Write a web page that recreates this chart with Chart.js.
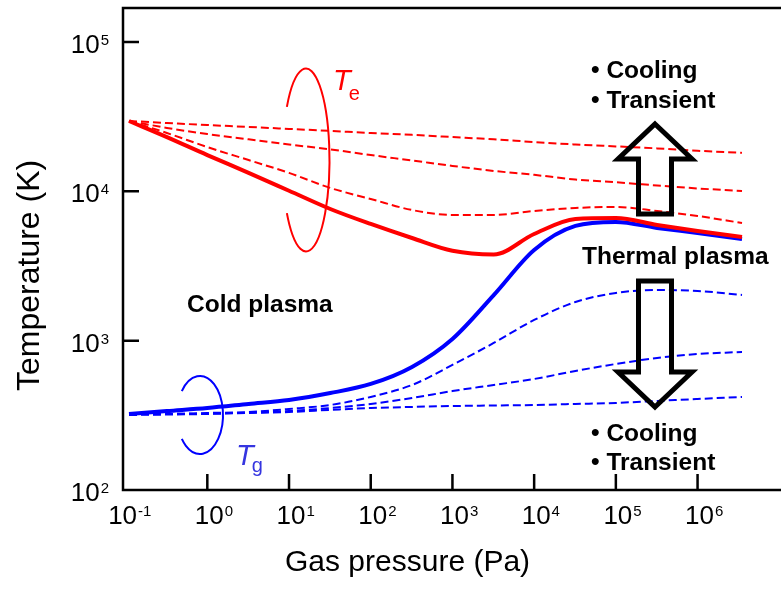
<!DOCTYPE html>
<html>
<head>
<meta charset="utf-8">
<script src="https://cdn.jsdelivr.net/npm/chart.js@4.4.1/dist/chart.umd.min.js"></script>
<style>
  html, body { margin: 0; padding: 0; background: #fff; }
  #wrap { width: 781px; height: 590px; }
</style>
</head>
<body>
<div id="wrap"><canvas id="plasmaChart" width="781" height="590"></canvas></div>
<script>
const FONT = "'Liberation Sans', Arial, Helvetica, sans-serif";
const RED = "#ff0000";
const BLUE = "#0000ff";

// gas pressure (Pa), shared by every curve
const pressure = [0.11, 0.32, 1, 3.2, 10, 32, 100, 320, 1e3, 3.2e3, 1e4, 3.2e4, 1e5, 3.2e5, 1e6, 3.5e6];

// electron temperature Te (K)
const teSteady = [29600, 23100, 17500, 13300, 10100, 7620, 6050, 4870, 4000, 3780, 5180, 6530, 6630, 5960, 5430, 4950];
const teDashA  = [29600, 28700, 27800, 27000, 26200, 25400, 24600, 23900, 23100, 22300, 21400, 20600, 20000, 19400, 18700, 18100];
const teDashB  = [29600, 26600, 24200, 22300, 20600, 19100, 17500, 16100, 14800, 13700, 12900, 12000, 11500, 10950, 10460, 10060];
const teDashC  = [29600, 24600, 19800, 16200, 13300, 10540, 8890, 7500, 6950, 6950, 7390, 7740, 7860, 7390, 6840, 6140];

// gas temperature Tg (K)
const tgSteady = [323, 338, 354, 377, 401, 446, 513, 667, 1027, 2020, 4050, 5870, 6240, 5690, 5260, 4800];
const tgDashA  = [323, 323, 328, 333, 349, 371, 420, 505, 688, 965, 1376, 1816, 2087, 2186, 2153, 2024];
const tgDashB  = [320, 323, 325, 330, 338, 354, 377, 413, 460, 505, 554, 627, 698, 766, 814, 840];
const tgDashC  = [318, 320, 323, 328, 333, 344, 354, 360, 365, 368, 371, 377, 383, 395, 407, 420];

// decade exponents used for tick marks and labels
const xDecades = [-1, 0, 1, 2, 3, 4, 5, 6];
const yDecades = [2, 3, 4, 5];

const pts = arr => pressure.map((p, i) => ({ x: p, y: arr[i] }));

function curve(values, color, dashed) {
  return {
    data: pts(values),
    borderColor: color,
    borderWidth: dashed ? 2 : 4,
    borderDash: dashed ? [8, 4] : [],
    pointRadius: 0,
    fill: false,
    cubicInterpolationMode: "monotone"
  };
}

// "10" with a raised exponent
function pow10(ctx, x, y, exp, anchor) {
  ctx.font = "26px " + FONT;
  const base = ctx.measureText("10").width;
  ctx.font = "15px " + FONT;
  const sup = ctx.measureText(String(exp)).width;
  let left;
  if (anchor === "right") left = x - base - sup - 1;
  else left = x - base / 2;
  ctx.textAlign = "left";
  ctx.textBaseline = "alphabetic";
  ctx.font = "26px " + FONT;
  ctx.fillText("10", left, y);
  ctx.font = "15px " + FONT;
  ctx.fillText(String(exp), left + base + 1, y - 8);
}

function openEllipse(ctx, cx, cy, rx, ry, gap, color) {
  ctx.beginPath();
  ctx.ellipse(cx, cy, rx, ry, 0, Math.PI + gap, Math.PI - gap + 2 * Math.PI);
  ctx.strokeStyle = color;
  ctx.lineWidth = 2;
  ctx.stroke();
}

function blockArrow(ctx, tipY, headY, tailY) {
  const cx = 655, headHalf = 37, shaftHalf = 16.5;
  ctx.beginPath();
  ctx.moveTo(cx, tipY);
  ctx.lineTo(cx + headHalf, headY);
  ctx.lineTo(cx + shaftHalf, headY);
  ctx.lineTo(cx + shaftHalf, tailY);
  ctx.lineTo(cx - shaftHalf, tailY);
  ctx.lineTo(cx - shaftHalf, headY);
  ctx.lineTo(cx - headHalf, headY);
  ctx.closePath();
  ctx.strokeStyle = "#000";
  ctx.lineWidth = 5;
  ctx.lineJoin = "miter";
  ctx.stroke();
}

function tempLabel(ctx, x, y, sub, subDy, color) {
  ctx.fillStyle = color;
  ctx.textAlign = "left";
  ctx.font = "italic 29px " + FONT;
  ctx.fillText("T", x, y);
  const w = ctx.measureText("T").width;
  ctx.font = "20px " + FONT;
  ctx.fillText(sub, x + w - 2, y + subDy);
}

const frame = {
  id: "frame",
  afterDraw(chart) {
    const { ctx, chartArea: a, scales: { x, y } } = chart;
    ctx.save();
    ctx.strokeStyle = "#000";
    ctx.lineWidth = 2.5;
    ctx.lineCap = "butt";
    ctx.beginPath();
    ctx.moveTo(a.right, a.top);
    ctx.lineTo(a.left, a.top);
    ctx.lineTo(a.left, a.bottom);
    ctx.lineTo(a.right, a.bottom);
    ctx.stroke();

    // inward tick marks
    ctx.beginPath();
    xDecades.filter(e => e >= 0).forEach(e => {
      const px = x.getPixelForValue(Math.pow(10, e));
      ctx.moveTo(px, a.bottom);
      ctx.lineTo(px, a.bottom - 16);
    });
    yDecades.filter(e => e > 2).forEach(e => {
      const py = y.getPixelForValue(Math.pow(10, e));
      ctx.moveTo(a.left, py);
      ctx.lineTo(a.left + 16, py);
    });
    ctx.stroke();

    ctx.fillStyle = "#000";
    xDecades.forEach(e => {
      const shift = e < 0 ? -3 : 2;
      pow10(ctx, x.getPixelForValue(Math.pow(10, e)) + shift, 524, e, "center");
    });
    yDecades.forEach(e => pow10(ctx, 109, y.getPixelForValue(Math.pow(10, e)) + 11, e, "right"));

    // axis titles
    ctx.font = "30px " + FONT;
    ctx.textAlign = "left";
    ctx.fillText("Gas pressure (Pa)", 285, 571);
    ctx.save();
    ctx.translate(39, 391);
    ctx.rotate(-Math.PI / 2);
    ctx.font = "32px " + FONT;
    ctx.fillText("Temperature (K)", 0, 0);
    ctx.restore();

    // Te / Tg markers
    openEllipse(ctx, 306, 160, 23.5, 91.5, 0.62, RED);
    openEllipse(ctx, 200, 415, 23, 39, 0.66, BLUE);
    tempLabel(ctx, 333, 90, "e", 10, RED);
    tempLabel(ctx, 236, 465, "g", 7, "#3535e0");

    // heating / cooling arrows
    blockArrow(ctx, 124, 159, 214);
    blockArrow(ctx, 407, 372, 281);

    ctx.fillStyle = "#000";
    ctx.textAlign = "left";
    ctx.font = "bold 24.5px " + FONT;
    ctx.fillText("\u2022 Cooling", 591, 78);
    ctx.fillText("\u2022 Transient", 591, 108);
    ctx.fillText("Thermal plasma", 582, 264);
    ctx.fillText("\u2022 Cooling", 591, 441);
    ctx.fillText("\u2022 Transient", 591, 470);
    ctx.fillText("Cold plasma", 187, 312);
    ctx.restore();
  }
};

new Chart(document.getElementById("plasmaChart"), {
  type: "line",
  data: {
    datasets: [
      curve(teDashA, RED, true),
      curve(teDashB, RED, true),
      curve(teDashC, RED, true),
      curve(teSteady, RED, false),
      curve(tgDashA, BLUE, true),
      curve(tgDashB, BLUE, true),
      curve(tgDashC, BLUE, true),
      curve(tgSteady, BLUE, false)
    ]
  },
  options: {
    responsive: false,
    animation: false,
    layout: { padding: { left: 123, top: 8, right: 0, bottom: 100 } },
    plugins: { legend: { display: false }, tooltip: { enabled: false } },
    scales: {
      x: { type: "logarithmic", min: 0.0929, max: 1.05e7, display: false },
      y: { type: "logarithmic", min: 100, max: 1.69e5, display: false }
    }
  },
  plugins: [frame]
});
</script>
</body>
</html>
